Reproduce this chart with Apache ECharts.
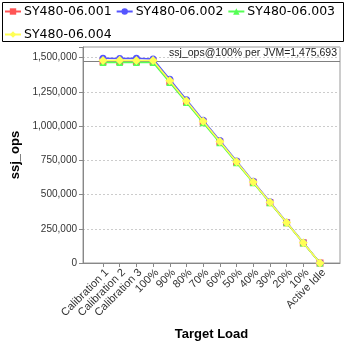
<!DOCTYPE html>
<html><head><meta charset="utf-8">
<script src="https://cdn.jsdelivr.net/npm/echarts@6/dist/echarts.min.js"></script>
<style>html,body{margin:0;padding:0;background:#fff}#c{width:348px;height:348px}</style>
</head><body><div id="c"></div>
<script>
const categories = ["Calibration 1","Calibration 2","Calibration 3","100%","90%","80%","70%","60%","50%","40%","30%","20%","10%","Active Idle"];
const seriesNames = ["SY480-06.001","SY480-06.002","SY480-06.003","SY480-06.004"];
const s001 = [1470000,1471000,1470000,1471000,1324000,1177000,1030000,883000,736000,589000,441000,294000,147000,0];
const s002 = [1494000,1493000,1494000,1490000,1341000,1192000,1043000,894000,745000,596000,447000,298000,149000,0];
const s003 = [1463000,1464000,1464000,1463000,1317000,1171000,1024000,878000,732000,585000,439000,293000,146000,0];
const s004 = [1479000,1480000,1479000,1478000,1330000,1182000,1035000,887000,739000,591000,443000,296000,148000,0];
const refValue = 1475693;
const yMax = 1577000;
const yInterval = 250000;

const colors = ['#FF5555','#5555FF','#55FF55','#FFFF55'];
const symbols = ['rect','circle','triangle','diamond'];
const datas = [s001,s002,s003,s004];
const fmt = v => v.toString().replace(/\B(?=(\d{3})+(?!\d))/g, ',');

const chart = echarts.init(document.getElementById('c'));
const series = datas.map((d,i)=>({
  name: seriesNames[i], type:'line', xAxisIndex:1, yAxisIndex:1,
  data: d, symbol: symbols[i], symbolSize: i===3?9:7,
  lineStyle:{color:colors[i], width:1.5},
  itemStyle:{color:colors[i]}, animation:false, z: 3+i
}));
series.push({
  type:'line', xAxisIndex:0, yAxisIndex:0, data:[], silent:true, animation:false,
  markLine:{
    symbol:'none', silent:true, animation:false,
    lineStyle:{color:'#808080', type:'solid', width:1},
    label:{position:'insideEndTop', formatter:'ssj_ops@100% per JVM=' + fmt(refValue),
      fontFamily:'Liberation Sans', fontSize:10.5, color:'#222', distance:[3,2]},
    data:[{yAxis:refValue}]
  }
});

chart.setOption({
  animation:false,
  color: colors,
  graphic:[{type:'rect', shape:{x:2.5,y:2.5,width:341,height:39}, style:{fill:'none', stroke:'#000', lineWidth:1}}],
  legend:{
    data: seriesNames, left:4, top:2, width:420, itemGap:4, itemWidth:16, itemHeight:8,
    padding:0,
    textStyle:{fontFamily:'DejaVu Sans', fontSize:12.5, color:'#000', lineHeight:19, padding:[0,0,0,-2]}
  },
  grid:[
    {left:83, right:8, top:47, bottom:85, show:true, borderColor:'#999', borderWidth:1, backgroundColor:'#fff'},
    {left:103, right:28, top:47, bottom:85}
  ],
  xAxis:[
    {gridIndex:0, type:'value', min:0, max:1, axisLabel:{show:false}, axisTick:{show:false}, splitLine:{show:false},
     axisLine:{show:true, lineStyle:{color:'#888'}},
     name:'Target Load', nameLocation:'middle', nameGap:65,
     nameTextStyle:{fontFamily:'Liberation Sans', fontWeight:'bold', fontSize:13, color:'#000'}},
    {gridIndex:1, type:'category', boundaryGap:false, data:categories,
     axisLine:{show:false}, axisTick:{show:true, length:4, lineStyle:{color:'#888'}},
     axisLabel:{rotate:45, interval:0, fontFamily:'Liberation Sans', fontSize:11, color:'#333', margin:4, verticalAlign:'top'}}
  ],
  yAxis:[
    {gridIndex:0, type:'value', min:0, max:yMax, interval:yInterval,
     axisLine:{show:true, lineStyle:{color:'#888'}},
     axisTick:{show:true, length:4, lineStyle:{color:'#888'}},
     axisLabel:{fontFamily:'Liberation Sans', fontSize:10, color:'#333', margin:6,
       formatter: v => (v % yInterval === 0 ? fmt(v) : '')},
     splitLine:{show:true, lineStyle:{color:'#ccc', type:[2,2]}},
     name:'ssj_ops', nameLocation:'middle', nameGap:48,
     nameTextStyle:{fontFamily:'Liberation Sans', fontWeight:'bold', fontSize:13, color:'#000'}},
    {gridIndex:1, type:'value', min:0, max:yMax, show:false}
  ],
  series: series
});
</script></body></html>
